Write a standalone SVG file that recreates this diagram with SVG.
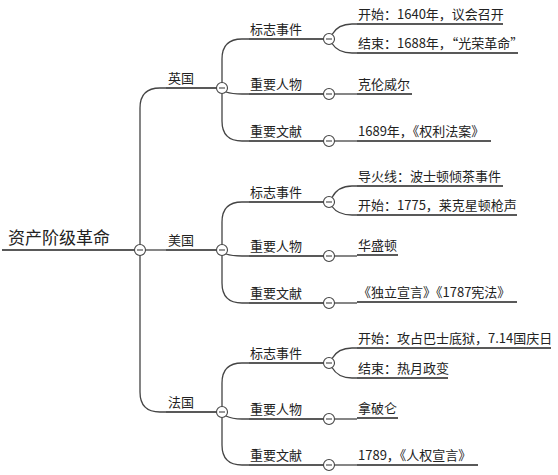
<svg xmlns="http://www.w3.org/2000/svg" width="558" height="475" viewBox="0 0 558 475">
<style>
.t{font-family:"Microsoft YaHei","Noto Sans CJK SC","Noto Sans",sans-serif;font-size:13px;fill:#222}
.r{font-size:17px}
.u{stroke:#222;stroke-width:1.3;fill:none}
.c{stroke:#444;stroke-width:1.3;fill:none}
.k{fill:#fff;stroke:#444;stroke-width:1.1}
.m{stroke:#444;stroke-width:1.1}
</style>
<defs>
<g id="tog"><circle class="k" cx="0" cy="0" r="5.5"/><line class="m" x1="-3" y1="0" x2="3" y2="0"/></g>
</defs>
<rect width="558" height="475" fill="#fff"/>
<g id="connectors">
<path class="c" d="M140,244.5 V108 Q140,88 160,88 H166"/>
<path class="c" d="M145.5,250 H166"/>
<path class="c" d="M140,255.5 V392 Q140,412 160,412 H166"/>
<!-- England -->
<path class="c" d="M222,82.5 V59 Q222,39 242,39 H249"/>
<path class="c" d="M226,92 Q232,94 242,94 H249"/>
<path class="c" d="M222,93.5 V121 Q222,141 242,141 H249"/>
<path class="c" d="M332,34.5 Q338,24 352,24 H357"/>
<path class="c" d="M332,43.5 Q338,53 352,53 H357"/>
<path class="c" d="M334.5,94 H357"/>
<path class="c" d="M334.5,141 H357"/>
<!-- USA -->
<path class="c" d="M222,244.5 V222 Q222,202 242,202 H249"/>
<path class="c" d="M226,254 Q232,256 242,256 H249"/>
<path class="c" d="M222,255.5 V283 Q222,303 242,303 H249"/>
<path class="c" d="M332,197.5 Q338,186 352,186 H357"/>
<path class="c" d="M332,206.5 Q338,215 352,215 H357"/>
<path class="c" d="M334.5,256 H357"/>
<path class="c" d="M334.5,303 H357"/>
<!-- France -->
<path class="c" d="M222,406.5 V383 Q222,363 242,363 H249"/>
<path class="c" d="M226,416 Q232,419 242,419 H249"/>
<path class="c" d="M222,417.5 V445 Q222,465 242,465 H249"/>
<path class="c" d="M332,358.5 Q338,348 352,348 H357"/>
<path class="c" d="M332,367.5 Q338,378 352,378 H357"/>
<path class="c" d="M334.5,419 H357"/>
<path class="c" d="M334.5,465 H357"/>
</g>
<g id="root"><text class="t r" x="8" y="244">资产阶级革命</text><line class="u" x1="2" y1="250" x2="134.5" y2="250"/><use href="#tog" x="140" y="250"/></g>
<g id="uk"><text class="t" x="168" y="83">英国</text><line class="u" x1="166" y1="88" x2="216.5" y2="88"/><use href="#tog" x="222" y="88"/></g>
<g id="us"><text class="t" x="168" y="245">美国</text><line class="u" x1="166" y1="250" x2="216.5" y2="250"/><use href="#tog" x="222" y="250"/></g>
<g id="fr"><text class="t" x="168" y="407">法国</text><line class="u" x1="166" y1="412" x2="216.5" y2="412"/><use href="#tog" x="222" y="412"/></g>

<g id="uk-events"><text class="t" x="250" y="34">标志事件</text><line class="u" x1="249" y1="39" x2="323.5" y2="39"/><use href="#tog" x="329" y="39"/></g>
<g id="uk-people"><text class="t" x="250" y="89">重要人物</text><line class="u" x1="249" y1="94" x2="323.5" y2="94"/><use href="#tog" x="329" y="94"/></g>
<g id="uk-docs"><text class="t" x="250" y="136">重要文献</text><line class="u" x1="249" y1="141" x2="323.5" y2="141"/><use href="#tog" x="329" y="141"/></g>
<g id="uk-e1"><text class="t" x="358" y="19">开始：1640年，议会召开</text><line class="u" x1="357" y1="24" x2="503" y2="24"/></g>
<g id="uk-e2"><text class="t" x="358" y="48">结束：1688年，“光荣革命”</text><line class="u" x1="357" y1="53" x2="518" y2="53"/></g>
<g id="uk-p1"><text class="t" x="358" y="89">克伦威尔</text><line class="u" x1="357" y1="94" x2="412" y2="94"/></g>
<g id="uk-d1"><text class="t" x="358" y="136">1689年，《权利法案》</text><line class="u" x1="357" y1="141" x2="491" y2="141"/></g>

<g id="us-events"><text class="t" x="250" y="197">标志事件</text><line class="u" x1="249" y1="202" x2="323.5" y2="202"/><use href="#tog" x="329" y="202"/></g>
<g id="us-people"><text class="t" x="250" y="251">重要人物</text><line class="u" x1="249" y1="256" x2="323.5" y2="256"/><use href="#tog" x="329" y="256"/></g>
<g id="us-docs"><text class="t" x="250" y="298">重要文献</text><line class="u" x1="249" y1="303" x2="323.5" y2="303"/><use href="#tog" x="329" y="303"/></g>
<g id="us-e1"><text class="t" x="358" y="181">导火线：波士顿倾茶事件</text><line class="u" x1="357" y1="186" x2="503" y2="186"/></g>
<g id="us-e2"><text class="t" x="358" y="210">开始：1775，莱克星顿枪声</text><line class="u" x1="357" y1="215" x2="517" y2="215"/></g>
<g id="us-p1"><text class="t" x="358" y="250">华盛顿</text><line class="u" x1="357" y1="255" x2="398" y2="255"/></g>
<g id="us-d1"><text class="t" x="358" y="297">《独立宣言》《1787宪法》</text><line class="u" x1="357" y1="302" x2="517" y2="302"/></g>

<g id="fr-events"><text class="t" x="250" y="358">标志事件</text><line class="u" x1="249" y1="363" x2="323.5" y2="363"/><use href="#tog" x="329" y="363"/></g>
<g id="fr-people"><text class="t" x="250" y="414">重要人物</text><line class="u" x1="249" y1="419" x2="323.5" y2="419"/><use href="#tog" x="329" y="419"/></g>
<g id="fr-docs"><text class="t" x="250" y="460">重要文献</text><line class="u" x1="249" y1="465" x2="323.5" y2="465"/><use href="#tog" x="329" y="465"/></g>
<g id="fr-e1"><text class="t" x="358" y="343">开始：攻占巴士底狱，7.14国庆日</text><line class="u" x1="357" y1="348" x2="551" y2="348"/></g>
<g id="fr-e2"><text class="t" x="358" y="373">结束：热月政变</text><line class="u" x1="357" y1="378" x2="448" y2="378"/></g>
<g id="fr-p1"><text class="t" x="358" y="413">拿破仑</text><line class="u" x1="357" y1="418" x2="398" y2="418"/></g>
<g id="fr-d1"><text class="t" x="358" y="460">1789，《人权宣言》</text><line class="u" x1="357" y1="465" x2="478" y2="465"/></g>
</svg>
